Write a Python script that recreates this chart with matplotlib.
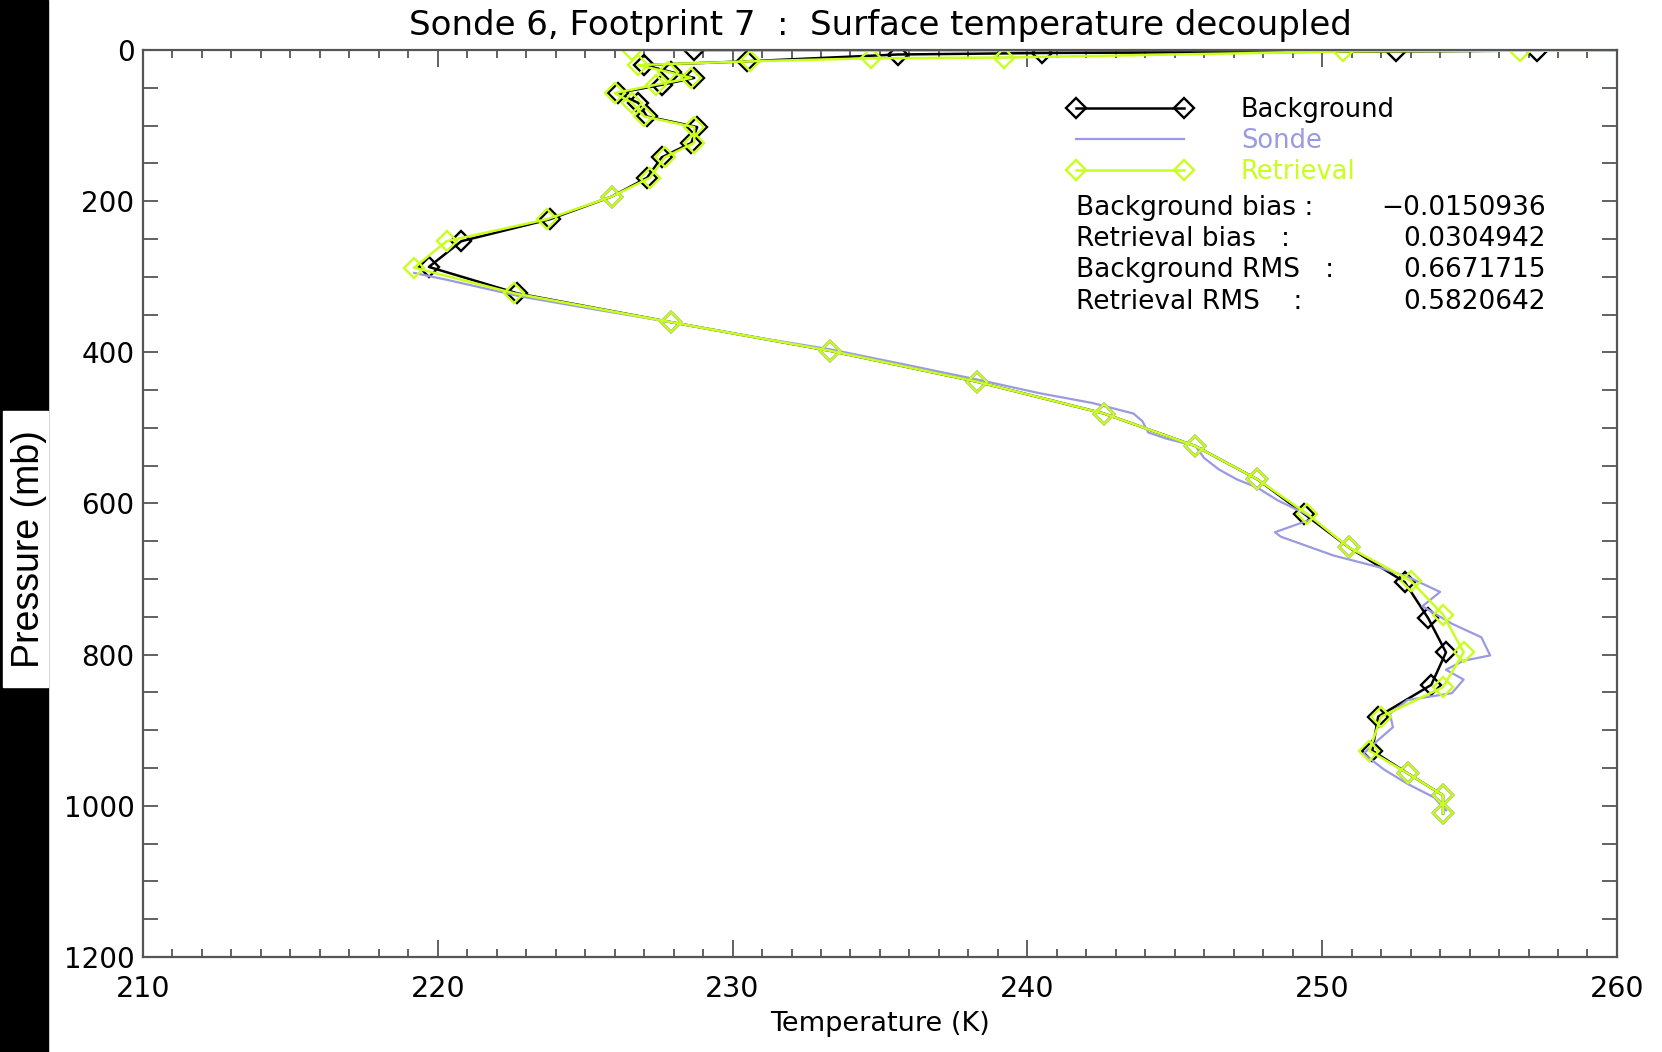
import numpy as np
import matplotlib.pyplot as plt
from matplotlib.patches import Rectangle
from matplotlib.ticker import MultipleLocator

# background profile (pressure mb, temperature K)
bg_p = [0.005, 0.03, 0.8, 2.0, 4.0, 6.0, 15, 20, 29, 37, 46, 57, 70, 88, 102, 123,
        142, 169, 194, 224, 253, 287, 322, 360, 398, 439, 481, 524, 568, 614,
        658, 704, 752, 797, 840, 882, 927, 957, 986, 1010]
bg_t = [228.7, 278.0, 257.3, 252.5, 240.5, 235.6, 230.5, 227.0, 227.9, 228.7, 227.6,
        226.1, 226.8, 227.1, 228.8, 228.6, 227.6, 227.1, 225.9, 223.8, 220.8, 219.7,
        222.7, 227.9, 233.3, 238.3, 242.6, 245.7, 247.8, 249.4, 250.9, 252.8, 253.6,
        254.2, 253.7, 251.9, 251.7, 252.9, 254.1, 254.1]

# retrieval profile
ret_p = [0.005, 0.03, 0.8, 2.0, 10, 11, 15, 20, 29, 37, 46, 57, 70, 88, 102, 123,
         142, 169, 194, 224, 253, 288, 322, 360, 398, 439, 481, 524, 568, 614,
         658, 702, 747, 797, 843, 882, 927, 957, 986, 1010]
ret_t = [226.6, 280.0, 256.7, 250.7, 239.2, 234.7, 230.6, 226.8, 227.8, 228.6, 227.4,
         226.0, 226.6, 227.0, 228.7, 228.7, 227.7, 227.2, 225.9, 223.7, 220.3, 219.2,
         222.6, 227.9, 233.3, 238.3, 242.6, 245.7, 247.8, 249.5, 250.9, 253.0, 254.1,
         254.8, 254.1, 252.0, 251.6, 252.9, 254.1, 254.1]

# sonde profile
sonde_p = [295, 304, 326, 343, 360, 377, 396, 415, 436, 454, 467, 481, 491, 506,
           514, 524, 540, 555, 568, 579, 596, 613, 620, 638, 644, 669, 684, 697,
           717, 736, 759, 777, 801, 808, 820, 833, 851, 860, 878, 896, 913, 931,
           952, 971, 989, 1006]
sonde_t = [219.2, 220.3, 222.8, 225.3, 227.9, 230.3, 233.3, 235.7, 238.3, 240.4,
           242.2, 243.6, 243.9, 244.1, 244.7, 245.7, 246.0, 246.5, 247.1, 247.8,
           248.5, 249.4, 249.7, 248.4, 248.6, 250.4, 251.9, 252.9, 254.0, 253.4,
           254.4, 255.4, 255.7, 254.8, 254.2, 254.8, 254.4, 252.9, 252.3, 252.4,
           251.9, 251.4, 252.1, 252.9, 253.8, 254.2]

stats = [("Background bias :", "\u22120.0150936"),
         ("Retrieval bias   :", "0.0304942"),
         ("Background RMS   :", "0.6671715"),
         ("Retrieval RMS    :", "0.5820642")]

green = '#c8ff1e'
blue = '#9a9ae0'
axcol = '#555555'

fig = plt.figure(figsize=(16.62, 10.52), dpi=100)
ax = fig.add_axes([0.0860, 0.0903, 0.8869, 0.8622])

ax.plot(bg_t, bg_p, color='black', lw=1.8, marker='D', ms=10.5, mfc='none',
        mec='black', mew=1.7, label='Background')
ax.plot(sonde_t, sonde_p, color=blue, lw=1.6, label='Sonde')
ax.plot(ret_t, ret_p, color=green, lw=1.8, marker='D', ms=10.5, mfc='none',
        mec=green, mew=1.7, label='Retrieval')

ax.set_xlim(210, 260)
ax.set_ylim(1200, 0)
ax.xaxis.set_major_locator(MultipleLocator(10))
ax.xaxis.set_minor_locator(MultipleLocator(1))
ax.yaxis.set_major_locator(MultipleLocator(200))
ax.yaxis.set_minor_locator(MultipleLocator(50))
ax.tick_params(axis='x', which='major', direction='in', top=True, length=12,
               width=1.3, color=axcol, labelsize=20.5, pad=13)
ax.tick_params(axis='x', which='minor', direction='in', top=True, length=6,
               width=1.3, color=axcol)
ax.tick_params(axis='y', which='both', direction='in', right=True, length=11,
               width=1.3, color=axcol, labelsize=20, pad=6)
for s in ax.spines.values():
    s.set_color(axcol)
    s.set_linewidth(1.6)

ax.set_xlabel('Temperature (K)', fontsize=19.5, labelpad=6)

fig.text(0.5295, 0.9758, 'Sonde 6, Footprint 7  :  Surface temperature decoupled',
         ha='center', va='center', fontsize=24.5)

leg = ax.legend(loc='upper left', bbox_to_anchor=(0.628, 0.948), numpoints=2,
                frameon=False, fontsize=18.5, handlelength=4.8, handletextpad=1.9,
                labelspacing=0.2, borderpad=0, borderaxespad=0,
                labelcolor='linecolor')

rows_y = [0.826, 0.792, 0.757, 0.722]
for (name, val), y in zip(stats, rows_y):
    ax.text(0.633, y, name, transform=ax.transAxes, fontsize=19, va='center')
    ax.text(0.952, y, val, transform=ax.transAxes, fontsize=19, va='center', ha='right')

# black strip on the left with the boxed axis title
fig.patches.append(Rectangle((0, 0), 0.0289, 1, transform=fig.transFigure,
                             color='black', zorder=0))
fig.patches.append(Rectangle((0.0018, 0.347), 0.0271, 0.262, transform=fig.transFigure,
                             color='white', zorder=1))
fig.text(0.0174, 0.478, 'Pressure (mb)', rotation=90, ha='center', va='center',
         fontsize=27, family='Liberation Sans')

fig.savefig('out.png', dpi=100)
